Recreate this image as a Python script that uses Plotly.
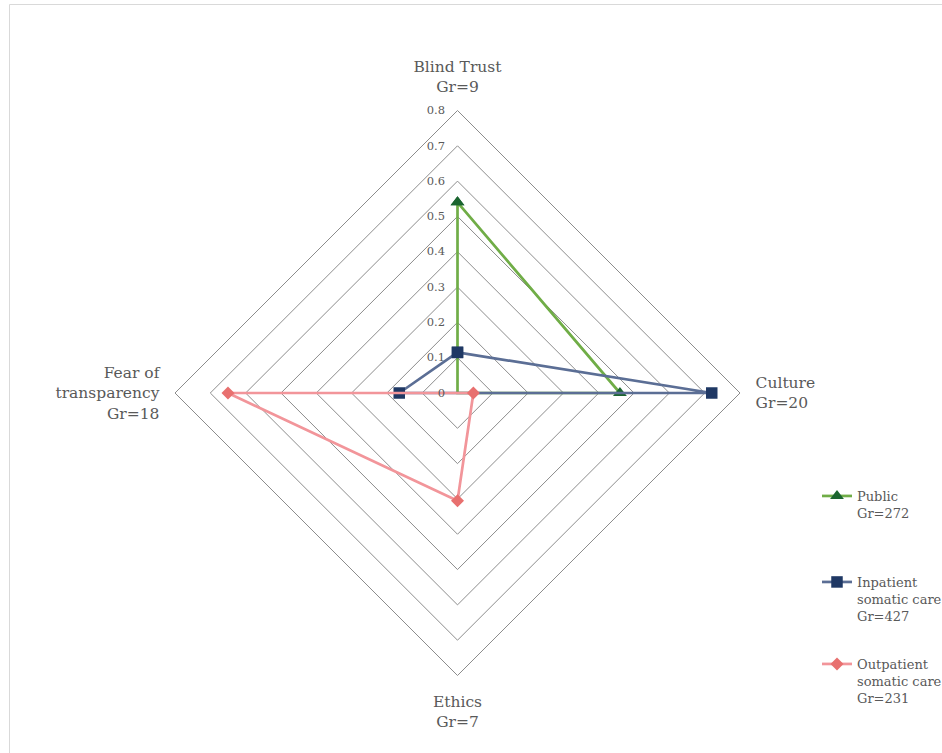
import plotly.graph_objects as go

# Dimensions (clockwise from the top) and their group counts
categories = ["Blind Trust<br>Gr=9", "Culture<br>Gr=20", "Ethics<br>Gr=7", "Fear of<br>transparency<br>Gr=18"]

# Series values per dimension
public = [0.54, 0.46, 0.0, 0.0]
inpatient = [0.115, 0.72, 0.0, 0.165]
outpatient = [0.0, 0.045, 0.305, 0.65]

series_names = ["Public<br>Gr=272", "Inpatient<br>somatic care<br>Gr=427", "Outpatient<br>somatic care<br>Gr=231"]

radial_ticks = [0, 0.1, 0.2, 0.3, 0.4, 0.5, 0.6, 0.7, 0.8]
radial_labels = ["0", "0.1", "0.2", "0.3", "0.4", "0.5", "0.6", "0.7", "0.8"]

FONT = "DejaVu Serif"
TEXT = "#595959"

def closed(vals):
    return list(vals) + [vals[0]]

theta = closed(categories)

styles = [
    dict(values=public, line="#70AD47", marker="#1B6530", symbol="triangle-up", size=12, legend="legend"),
    dict(values=inpatient, line="#5B6E95", marker="#1F3864", symbol="square", size=11.5, legend="legend2"),
    dict(values=outpatient, line="#F2959A", marker="#E8706F", symbol="diamond", size=10, legend="legend3"),
]

fig = go.Figure()
for name, st in zip(series_names, styles):
    fig.add_trace(go.Scatterpolar(
        r=closed(st["values"]),
        theta=theta,
        mode="lines+markers",
        name=name,
        legend=st["legend"],
        line=dict(color=st["line"], width=2.7),
        marker=dict(symbol=st["symbol"], size=st["size"], color=st["marker"], line=dict(width=0)),
        cliponaxis=False,
    ))

cx, cy, R = 457.5, 393.0, 282.5
W, H = 942, 753

legend_common = dict(
    font=dict(family=FONT, size=13, color=TEXT),
    bgcolor="rgba(0,0,0,0)",
    xanchor="left",
    yanchor="top",
    valign="top",
    itemwidth=30,
)

fig.update_layout(
    width=W,
    height=H,
    margin=dict(l=0, r=0, t=0, b=0, autoexpand=False),
    paper_bgcolor="white",
    font=dict(family=FONT, color=TEXT),
    showlegend=True,
    polar=dict(
        domain=dict(x=[(cx - R) / W, (cx + R) / W], y=[(H - cy - R) / H, (H - cy + R) / H]),
        gridshape="linear",
        bgcolor="white",
        radialaxis=dict(
            range=[0, 0.8],
            tickvals=radial_ticks,
            ticktext=radial_labels,
            angle=90,
            side="counterclockwise",
            tickangle=90,
            showline=False,
            showgrid=True,
            gridcolor="#8C8C8C",
            gridwidth=1,
            ticks="outside",
            ticklen=8,
            tickcolor="rgba(0,0,0,0)",
            tickfont=dict(family=FONT, size=11.5, color=TEXT),
        ),
        angularaxis=dict(
            rotation=90,
            direction="clockwise",
            showgrid=False,
            showline=True,
            linecolor="#8C8C8C",
            linewidth=1,
            ticks="outside",
            ticklen=12,
            tickcolor="rgba(0,0,0,0)",
            tickfont=dict(family=FONT, size=15.5, color=TEXT),
        ),
    ),
    legend=dict(x=817 / W, y=1 - 481 / H, **legend_common),
    legend2=dict(x=817 / W, y=1 - 567 / H, **legend_common),
    legend3=dict(x=817 / W, y=1 - 649 / H, **legend_common),
    shapes=[dict(
        type="rect", xref="paper", yref="paper",
        x0=9.5 / W, x1=1.05, y0=-0.05, y1=1 - 4.5 / H,
        line=dict(color="#D9D9D9", width=1),
        fillcolor="rgba(0,0,0,0)",
        layer="below",
    )],
)

fig.write_html("out.html")
